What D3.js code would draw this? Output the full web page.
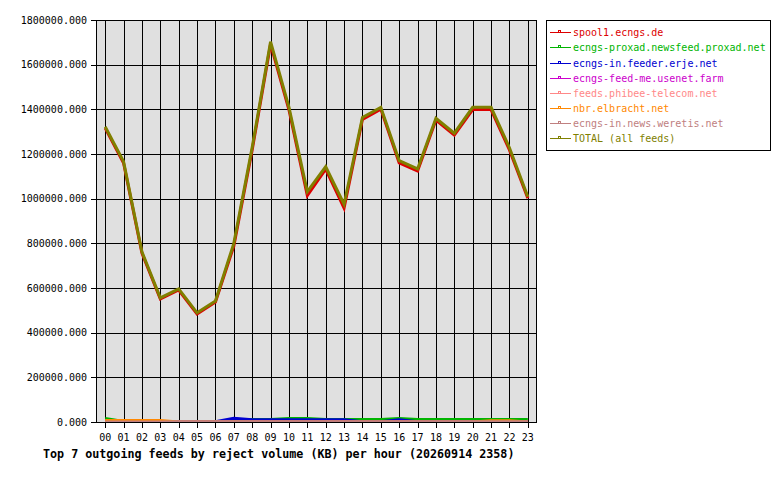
<!DOCTYPE html>
<html><head><meta charset="utf-8">
<script src="https://cdn.jsdelivr.net/npm/d3@7"></script>
<style>
html,body{margin:0;padding:0;background:#fff;}
svg text{font-family:"DejaVu Sans Mono","Liberation Mono",monospace;}
</style></head>
<body>
<svg id="chart" width="780" height="480"></svg>
<script>
const hours = ["00","01","02","03","04","05","06","07","08","09","10","11","12","13","14","15","16","17","18","19","20","21","22","23"];
const feedNames = ["spool1.ecngs.de","ecngs-proxad.newsfeed.proxad.net","ecngs-in.feeder.erje.net","ecngs-feed-me.usenet.farm","feeds.phibee-telecom.net","nbr.elbracht.net","ecngs-in.news.weretis.net","TOTAL (all feeds)"];
const feedColors = ["#dd0000","#00b400","#0000d0","#cc00cc","#ff8888","#ff8800","#c08080","#808000"];
const yTicks = [0,200000,400000,600000,800000,1000000,1200000,1400000,1600000,1800000];
const titleText = "Top 7 outgoing feeds by reject volume (KB) per hour (20260914 2358)";

const spool1  = [1316000,1160000,756000,551000,591000,484000,537000,788000,1218000,1692000,1398000,1014000,1132000,958000,1355000,1401000,1160000,1124000,1352000,1285000,1399000,1399000,1218000,1002000];
const proxad  = [16000,2000,2000,2000,2000,2000,2000,2000,11000,11000,16000,16000,11000,11000,11000,11000,16000,11000,11000,11000,11000,11000,11000,11000];
const erje    = [0,0,0,0,0,0,1000,17000,10000,10000,10000,10000,10000,10000,1000,1000,10000,1000,1000,1000,1000,1000,1000,1000];
const feedme  = [0,0,0,0,0,0,0,0,0,0,0,0,0,0,0,0,0,0,0,0,0,0,0,0];
const phibee  = [0,0,0,0,0,0,0,0,0,0,0,0,0,0,0,0,0,0,0,0,0,0,0,0];
const elbracht= [7000,7000,7000,7000,500,500,500,500,500,500,500,500,500,500,500,500,500,500,500,500,500,6000,6000,500];
const weretis = [0,0,0,0,1200,1200,1200,1200,1200,1200,1200,1200,1200,1200,1200,1200,1200,1200,1200,1200,1200,1200,1200,1200];
const total   = [1322000,1166000,762000,556000,596000,489000,542000,800000,1230000,1703000,1410000,1031000,1143000,975000,1364000,1409000,1170000,1133000,1360000,1293000,1409000,1409000,1228000,1009000];

const seriesList = [spool1, proxad, erje, feedme, phibee, elbracht, weretis, total];

const svg = d3.select("#chart");
const L = 96, R = 537, T = 20, B = 422;

const x = d3.scalePoint().domain(hours).range([L, R]).padding(0.5);
const y = d3.scaleLinear().domain([0, 1800000]).range([B, T]);

// plot background
svg.append("rect").attr("x", L).attr("y", T).attr("width", R - L).attr("height", B - T).attr("fill", "#e0e0e0");

// grid
const g = svg.append("g").attr("shape-rendering", "crispEdges");
g.selectAll("line.v").data(hours).join("line")
  .attr("x1", d => Math.round(x(d)) + 0.5).attr("x2", d => Math.round(x(d)) + 0.5)
  .attr("y1", T).attr("y2", B).attr("stroke", "#000").attr("stroke-width", 1);
g.selectAll("line.h").data(yTicks).join("line")
  .attr("x1", L).attr("x2", R)
  .attr("y1", d => Math.round(y(d)) + 0.5).attr("y2", d => Math.round(y(d)) + 0.5)
  .attr("stroke", "#000").attr("stroke-width", 1);

// clip
svg.append("clipPath").attr("id", "plotclip").append("rect")
  .attr("x", L).attr("y", T).attr("width", R - L).attr("height", B - T);

const line = d3.line().x((d, i) => x(hours[i])).y(d => y(d));
const lg = svg.append("g").attr("clip-path", "url(#plotclip)");
seriesList.forEach((s, k) => {
  lg.append("path").datum(s).attr("d", line)
    .attr("fill", "none").attr("stroke", feedColors[k])
    .attr("stroke-width", 3).attr("stroke-linejoin", "miter");
});

// border
svg.append("rect").attr("x", L + 0.5).attr("y", T + 0.5).attr("width", R - L - 1).attr("height", B - T)
  .attr("fill", "none").attr("stroke", "#000").attr("stroke-width", 1).attr("shape-rendering", "crispEdges");

// y axis ticks + labels
const ya = svg.append("g");
ya.selectAll("line").data(yTicks).join("line")
  .attr("x1", L - 5).attr("x2", L)
  .attr("y1", d => Math.round(y(d)) + 0.5).attr("y2", d => Math.round(y(d)) + 0.5)
  .attr("stroke", "#000").attr("shape-rendering", "crispEdges");
ya.selectAll("text").data(yTicks).join("text")
  .attr("x", 87).attr("y", d => y(d) + 3.5)
  .attr("text-anchor", "end").attr("font-size", "10px").attr("fill", "#000")
  .text(d => d3.format(".3f")(d));

// x axis ticks + labels
const xa = svg.append("g");
xa.selectAll("line").data(hours).join("line")
  .attr("x1", d => Math.round(x(d)) + 0.5).attr("x2", d => Math.round(x(d)) + 0.5)
  .attr("y1", B).attr("y2", B + 6)
  .attr("stroke", "#000").attr("shape-rendering", "crispEdges");
xa.selectAll("text").data(hours).join("text")
  .attr("x", d => x(d)).attr("y", 441)
  .attr("text-anchor", "middle").attr("font-size", "10px").attr("fill", "#000")
  .text(d => d);

// title
svg.append("text").attr("x", 43).attr("y", 458)
  .attr("font-size", "11.7px").attr("font-weight", "bold").attr("fill", "#000")
  .text(titleText);

// legend
const leg = svg.append("g");
leg.append("rect").attr("x", 546.5).attr("y", 20.5).attr("width", 224).attr("height", 130)
  .attr("fill", "#fff").attr("stroke", "#000").attr("shape-rendering", "crispEdges");
feedNames.forEach((name, i) => {
  const cy = Math.round(32.3 + i * 15.14);
  leg.append("line").attr("x1", 550).attr("x2", 571).attr("y1", cy + 0.5).attr("y2", cy + 0.5)
    .attr("stroke", feedColors[i]).attr("shape-rendering", "crispEdges");
  leg.append("rect").attr("x", 558.5).attr("y", cy - 1.5).attr("width", 2).attr("height", 2)
    .attr("fill", "none").attr("stroke", feedColors[i]).attr("shape-rendering", "crispEdges");
  leg.append("text").attr("x", 573).attr("y", cy + 3.5)
    .attr("font-size", "10px").attr("fill", feedColors[i]).text(name);
});
</script>
</body></html>
